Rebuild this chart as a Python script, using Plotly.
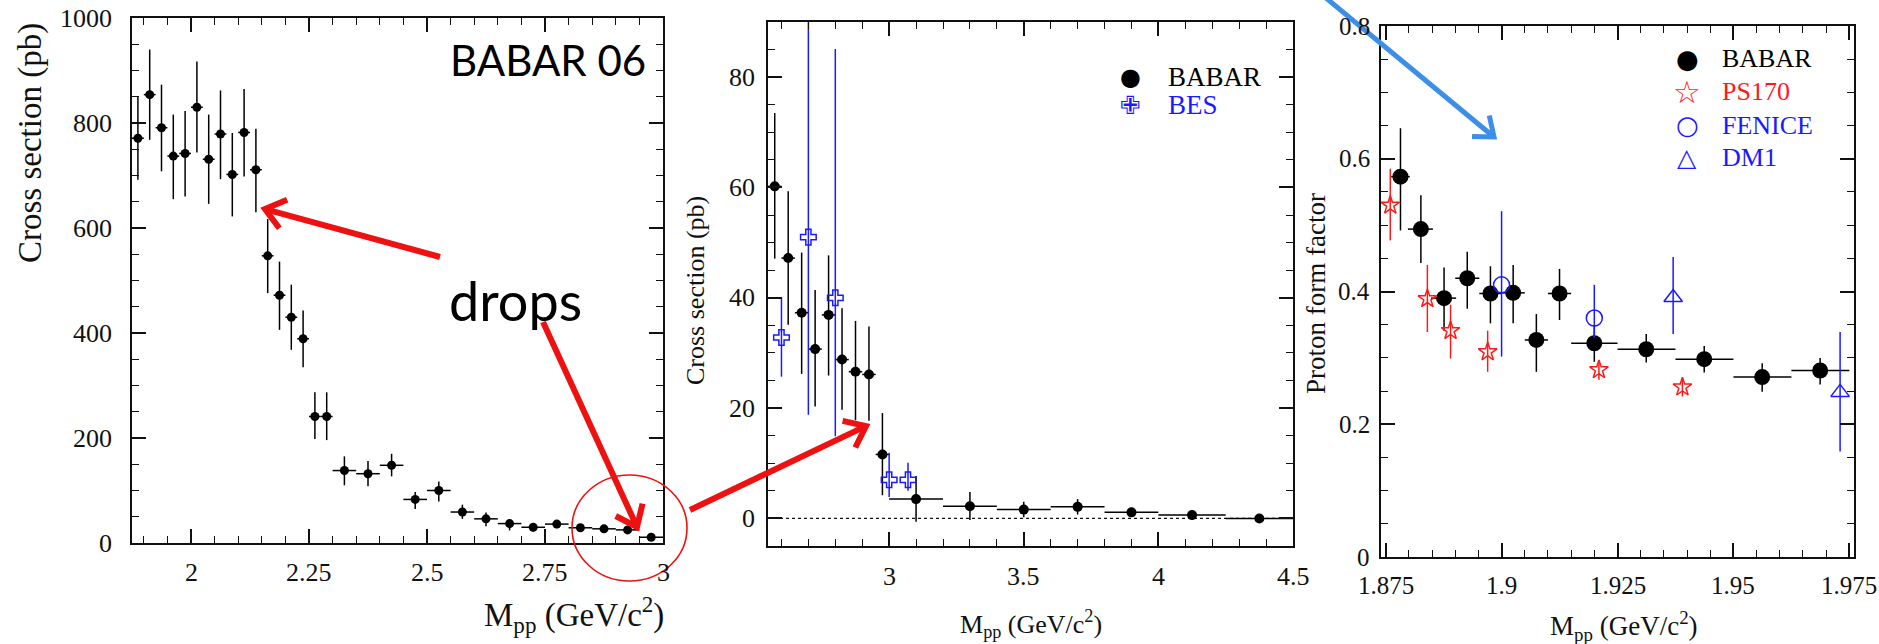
import math
import plotly.graph_objects as go

W, H = 1879, 644
SERIF = "Liberation Serif"
GLYPH = "DejaVu Sans"

# ---------------- Left panel: BABAR 06 cross section ----------------
left_x = [1.8875, 1.9125, 1.9375, 1.9625, 1.9875, 2.0125, 2.0375, 2.0625, 2.0875,
          2.1125, 2.1375, 2.1625, 2.1875, 2.2125, 2.2375, 2.2625, 2.2875,
          2.325, 2.375, 2.425, 2.475, 2.525, 2.575, 2.625, 2.675, 2.725, 2.775,
          2.825, 2.875, 2.925, 2.975]
left_xhw = [0.0125] * 17 + [0.025] * 14
left_y = [771, 854, 791, 737, 742, 830, 731, 779, 702, 782, 711, 547, 472, 430, 389,
          241, 241, 138, 132, 148, 83, 100, 59, 46, 37, 30, 36, 29, 27, 25, 11]
left_hi = [851, 940, 873, 816, 823, 917, 816, 862, 781, 865, 789, 617, 536, 492, 443,
           287, 287, 165, 156, 170, 97, 117, 73, 58, 44, 38, 44, 34, 32, 30, 15]
left_lo = [692, 768, 708, 655, 660, 744, 646, 693, 622, 698, 630, 476, 406, 368, 335,
           198, 196, 110, 108, 127, 65, 79, 46, 32, 24, 22, 28, 24, 22, 20, 7]
left_xticks = [2, 2.25, 2.5, 2.75, 3]
left_xlabels = ["2", "2.25", "2.5", "2.75", "3"]
left_yticks = [0, 200, 400, 600, 800, 1000]
left_ylabels = ["0", "200", "400", "600", "800", "1000"]

# ---------------- Middle panel: BABAR vs BES ----------------
mid_babar_x = [2.575, 2.625, 2.675, 2.725, 2.775, 2.825, 2.875, 2.925, 2.975,
               3.1, 3.3, 3.5, 3.7, 3.9, 4.125, 4.375]
mid_babar_xhw = [0.025] * 9 + [0.1] * 5 + [0.125, 0.125]
mid_babar_y = [60.2, 47.2, 37.3, 30.7, 36.9, 28.8, 26.6, 26.1, 11.6, 3.5, 2.2, 1.6, 2.1, 1.1, 0.6, 0.0]
mid_babar_hi = [73.5, 59.3, 48.2, 41.4, 47.7, 38.1, 35.8, 34.8, 19.1, 7.7, 4.8, 3.0, 3.5, 1.9, 1.0, 0.3]
mid_babar_lo = [47.1, 35.1, 26.2, 20.3, 25.9, 19.7, 17.8, 17.7, 4.2, -0.6, -0.3, 0.2, 0.7, 0.3, 0.2, -0.3]
bes_x = [2.6, 2.7, 2.8, 3.0, 3.07]
bes_y = [32.8, 51.0, 40.0, 7.0, 7.0]
bes_hi = [40.0, 110.0, 85.1, 11.9, 10.1]
bes_lo = [25.7, 18.8, 14.9, 3.9, 5.0]
mid_xticks = [3, 3.5, 4, 4.5]
mid_xlabels = ["3", "3.5", "4", "4.5"]
mid_yticks = [0, 20, 40, 60, 80]
mid_ylabels = ["0", "20", "40", "60", "80"]
mid_legend = [("BABAR", "●", "black"), ("BES", "✙", "#1a1aff")]

# ---------------- Right panel: proton form factor ----------------
ff_babar_x = [1.8782, 1.8826, 1.8876, 1.8926, 1.8976, 1.9025, 1.9075, 1.9125, 1.920,
              1.9312, 1.9437, 1.9562, 1.9687]
ff_babar_xlo = [1.8762, 1.8798, 1.8848, 1.8900, 1.8952, 1.9000, 1.9050, 1.9100, 1.915,
                1.925, 1.9375, 1.95, 1.9625]
ff_babar_xhi = [1.8802, 1.8852, 1.8902, 1.8952, 1.9000, 1.9050, 1.9100, 1.9150, 1.925,
                1.9375, 1.95, 1.9625, 1.975]
ff_babar_y = [0.573, 0.494, 0.390, 0.420, 0.397, 0.398, 0.327, 0.397, 0.322, 0.313, 0.298, 0.271, 0.281]
ff_babar_hi = [0.646, 0.545, 0.436, 0.460, 0.438, 0.440, 0.366, 0.434, 0.350, 0.336, 0.318, 0.292, 0.300]
ff_babar_lo = [0.492, 0.443, 0.341, 0.374, 0.352, 0.352, 0.279, 0.357, 0.294, 0.293, 0.278, 0.249, 0.260]
ps170_x = [1.876, 1.884, 1.889, 1.897, 1.921, 1.939]
ps170_y = [0.530, 0.389, 0.341, 0.309, 0.282, 0.256]
ps170_hi = [0.585, 0.440, 0.380, 0.341, 0.296, 0.269]
ps170_lo = [0.477, 0.339, 0.299, 0.279, 0.267, 0.242]
fenice_x = [1.900, 1.920]
fenice_y = [0.410, 0.360]
fenice_hi = [0.521, 0.410]
fenice_lo = [0.302, 0.330]
dm1_x = [1.937, 1.973]
dm1_y = [0.391, 0.248]
dm1_hi = [0.452, 0.339]
dm1_lo = [0.336, 0.159]
ff_xticks = [1.875, 1.9, 1.925, 1.95, 1.975]
ff_xlabels = ["1.875", "1.9", "1.925", "1.95", "1.975"]
ff_yticks = [0, 0.2, 0.4, 0.6, 0.8]
ff_ylabels = ["0", "0.2", "0.4", "0.6", "0.8"]
ff_legend = [("BABAR", "●", "black"), ("PS170", "☆", "#ff1a1a"),
             ("FENICE", "○", "#1a1aff"), ("DM1", "△", "#1a1aff")]

BLUE = "#1a1aff"
RED = "#ff1a1a"
INK = "#111111"
GLYPH_SIZE = {"●": 26, "○": 26, "☆": 31, "△": 25, "✙": 25}


def px(x):
    return x / W


def py(y):
    return 1 - y / H


def up(v, hi):
    return [h - a for a, h in zip(v, hi)]


def down(v, lo):
    return [a - l for a, l in zip(v, lo)]


def errs(plus, minus, color, thick=1.5):
    return dict(type="data", symmetric=False, array=plus, arrayminus=minus,
                color=color, thickness=thick, width=0)


fig = go.Figure()

# left panel points
fig.add_trace(go.Scatter(
    x=left_x, y=left_y, mode="markers", xaxis="x", yaxis="y",
    marker=dict(symbol="circle", size=9, color="black"),
    error_y=errs(up(left_y, left_hi), down(left_y, left_lo), "black"),
    error_x=dict(type="data", array=left_xhw, color="black", thickness=1.5, width=0),
))

# middle panel points
fig.add_trace(go.Scatter(
    x=mid_babar_x, y=mid_babar_y, mode="markers", xaxis="x2", yaxis="y2",
    marker=dict(symbol="circle", size=10, color="black"),
    error_y=errs(up(mid_babar_y, mid_babar_hi), down(mid_babar_y, mid_babar_lo), "black"),
    error_x=dict(type="data", array=mid_babar_xhw, color="black", thickness=1.5, width=0),
))
fig.add_trace(go.Scatter(
    x=bes_x, y=bes_y, mode="markers", xaxis="x2", yaxis="y2",
    marker=dict(symbol="cross-open", size=13, color=BLUE, line=dict(width=1.5, color=BLUE)),
    error_y=errs(up(bes_y, bes_hi), down(bes_y, bes_lo), BLUE),
))

# right panel points
fig.add_trace(go.Scatter(
    x=ff_babar_x, y=ff_babar_y, mode="markers", xaxis="x3", yaxis="y3",
    marker=dict(symbol="circle", size=16, color="black"),
    error_y=errs(up(ff_babar_y, ff_babar_hi), down(ff_babar_y, ff_babar_lo), "black"),
    error_x=errs([h - a for a, h in zip(ff_babar_x, ff_babar_xhi)],
                 [a - l for a, l in zip(ff_babar_x, ff_babar_xlo)], "black"),
))
fig.add_trace(go.Scatter(
    x=ps170_x, y=ps170_y, mode="markers", xaxis="x3", yaxis="y3",
    marker=dict(symbol="star-open", size=14, color=RED, line=dict(width=1.5, color=RED)),
    error_y=errs(up(ps170_y, ps170_hi), down(ps170_y, ps170_lo), RED),
))
fig.add_trace(go.Scatter(
    x=fenice_x, y=fenice_y, mode="markers", xaxis="x3", yaxis="y3",
    marker=dict(symbol="circle-open", size=16, color=BLUE, line=dict(width=1.5, color=BLUE)),
    error_y=errs(up(fenice_y, fenice_hi), down(fenice_y, fenice_lo), BLUE),
))
fig.add_trace(go.Scatter(
    x=dm1_x, y=dm1_y, mode="markers", xaxis="x3", yaxis="y3",
    marker=dict(symbol="triangle-up-open", size=16, color=BLUE, line=dict(width=1.5, color=BLUE)),
    error_y=errs(up(dm1_y, dm1_hi), down(dm1_y, dm1_lo), BLUE),
))


def frame_axis(rng, dom, vals, minor_dtick, minor_tick0, anchor):
    return dict(
        range=rng, domain=dom, anchor=anchor, showline=True, linecolor=INK, linewidth=1.5,
        mirror="allticks", ticks="inside", ticklen=14, tickwidth=1.5, tickcolor=INK,
        tickmode="array", tickvals=vals, showticklabels=False,
        minor=dict(ticks="inside", ticklen=7, tickwidth=1.3, tickcolor=INK,
                   tickmode="linear", dtick=minor_dtick, tick0=minor_tick0),
        showgrid=False, zeroline=False,
    )


L = (132, 663, 18, 543)
M = (768, 1293, 22, 546)
R = (1381, 1854, 26, 557)

fig.update_layout(
    width=W, height=H, autosize=False, showlegend=False,
    font=dict(family=SERIF, size=24, color=INK),
    margin=dict(l=0, r=0, t=0, b=0),
    paper_bgcolor="white", plot_bgcolor="white",
    xaxis=frame_axis([1.875, 3.0], [px(L[0]), px(L[1])], left_xticks, 0.05, 1.9, "y"),
    yaxis=frame_axis([0, 1000], [py(L[3]), py(L[2])], left_yticks, 50, 0, "x"),
    xaxis2=frame_axis([2.55, 4.5], [px(M[0]), px(M[1])], mid_xticks, 0.1, 2.6, "y2"),
    yaxis2=frame_axis([-5, 90], [py(M[3]), py(M[2])], mid_yticks, 5, 0, "x2"),
    xaxis3=frame_axis([1.874, 1.976], [px(R[0]), px(R[1])], ff_xticks, 0.005, 1.875, "y3"),
    yaxis3=frame_axis([0, 0.8], [py(R[3]), py(R[2])], ff_yticks, 0.05, 0, "x3"),
)


def label(text, x, y, size, color=INK, family=SERIF, xanchor="center", angle=0,
          xref="paper", yref="paper"):
    fig.add_annotation(
        text=text, x=x, y=y, xref=xref, yref=yref,
        xanchor=xanchor, yanchor="middle", textangle=angle, showarrow=False,
        font=dict(family=family, size=size, color=color),
    )


# tick labels, placed through each axis' scale
def tick_labels(xvals, xtexts, xref, xlab_y, yvals, ytexts, yref, ylab_x, size):
    for v, t in zip(xvals, xtexts):
        label(t, v, py(xlab_y), size, xref=xref)
    for v, t in zip(yvals, ytexts):
        label(t, px(ylab_x), v, size, xanchor="right", yref=yref)


tick_labels(left_xticks, left_xlabels, "x", 572, left_yticks, left_ylabels, "y", 114, 26)
tick_labels(mid_xticks, mid_xlabels, "x2", 576, mid_yticks, mid_ylabels, "y2", 757, 26)
tick_labels(ff_xticks, ff_xlabels, "x3", 585, ff_yticks, ff_ylabels, "y3", 1372, 25)

MASS_TITLE = "M<sub>pp</sub> (GeV/c<sup>2</sup>)"
label(MASS_TITLE, px(666), py(614), 33, xanchor="right")
label("Cross section (pb)", px(30), py(143), 33, angle=-90)
label(MASS_TITLE, px(1031), py(624), 26)
label("Cross section (pb)", px(695), py(291), 26, angle=-90)
label(MASS_TITLE, px(1624), py(626), 27)
label("Proton form factor", px(1316), py(294), 27, angle=-90)

# legend keys drawn as text rows
for i, (name, glyph, color) in enumerate(mid_legend):
    yy = 77 + 28 * i
    label(glyph, px(1130), py(yy), GLYPH_SIZE[glyph] - 2 if glyph == "●" else GLYPH_SIZE[glyph],
          color=color, family=GLYPH)
    label(name, px(1166), py(yy), 27, color=color, xanchor="left")
for i, (name, glyph, color) in enumerate(ff_legend):
    yy = 59 + 33 * i
    label(glyph, px(1687), py(yy), GLYPH_SIZE[glyph], color=color, family=GLYPH)
    label(name, px(1720), py(yy), 26, color=color, xanchor="left")

# slide callouts
label("BABAR 06", px(648), py(60), 42, color="black", family="Lato", xanchor="right")
label("drops", px(515), py(300), 54, color="black", family="Lato")

shapes = []
# dotted zero line in the middle panel
shapes.append(dict(type="line", xref="x2", yref="y2", x0=2.55, x1=4.5, y0=0, y1=0,
                   line=dict(color=INK, width=1.3, dash="dot"), layer="below"))
# circle around the threshold region
shapes.append(dict(type="circle", xref="paper", yref="paper", x0=px(572), x1=px(687),
                   y0=py(581), y1=py(475), line=dict(color="#ee1111", width=1.6)))


def arrow(x0, y0, x1, y1, color, width, head=24, ang=38):
    dx, dy = x1 - x0, y1 - y0
    n = math.hypot(dx, dy)
    ux, uy = dx / n, dy / n
    pts = []
    for s in (1, -1):
        a = math.radians(ang) * s
        rx = ux * math.cos(a) - uy * math.sin(a)
        ry = ux * math.sin(a) + uy * math.cos(a)
        pts.append((x1 - head * rx, y1 - head * ry))
    shapes.append(dict(type="line", xref="paper", yref="paper", x0=px(x0), y0=py(y0),
                       x1=px(x1 - ux * 2), y1=py(y1 - uy * 2),
                       line=dict(color=color, width=width)))
    path = "M %f,%f L %f,%f L %f,%f" % (px(pts[0][0]), py(pts[0][1]), px(x1), py(y1),
                                          px(pts[1][0]), py(pts[1][1]))
    shapes.append(dict(type="path", xref="paper", yref="paper", path=path,
                       line=dict(color=color, width=width)))


arrow(440, 257, 265, 209, "#ee1111", 6)
arrow(543, 322, 637, 527, "#ee1111", 6)
arrow(690, 510, 866, 426, "#ee1111", 6)
arrow(1326, -2, 1494, 137, "#3d8ee6", 5, head=22)

fig.update_layout(shapes=shapes)
fig.write_html("out.html")
